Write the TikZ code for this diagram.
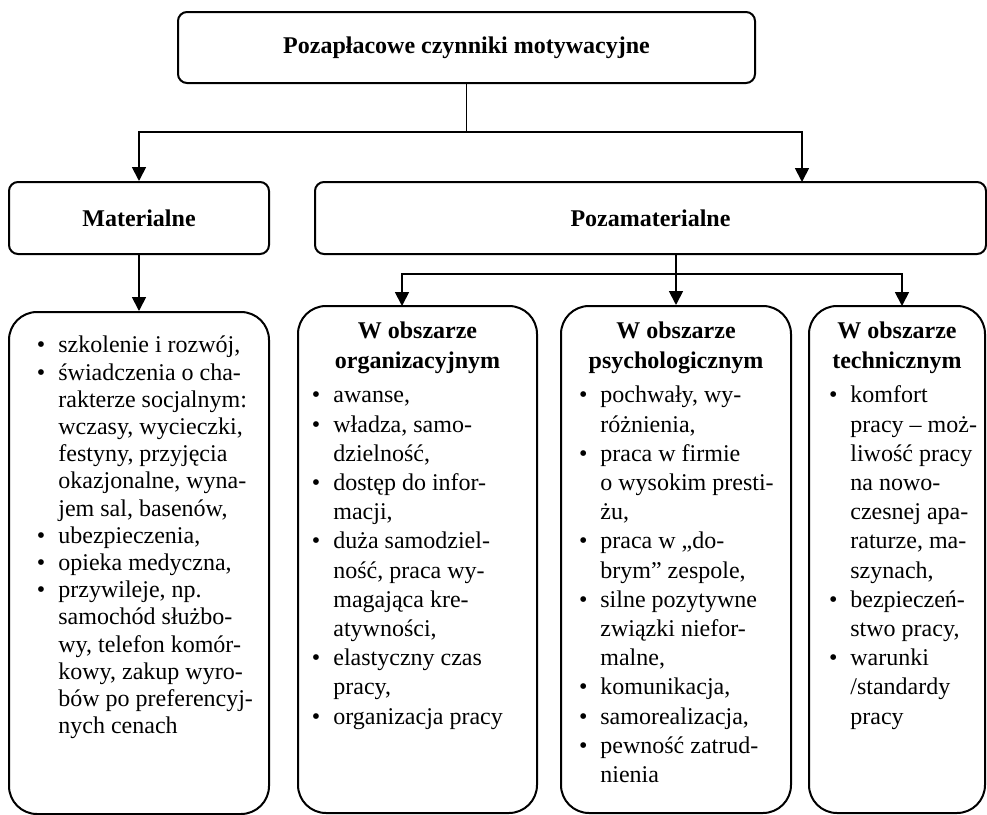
\documentclass[tikz,border=0pt]{standalone}
\usepackage{fontspec}
\setmainfont{Liberation Serif}
\usetikzlibrary{arrows.meta,positioning}
\newcommand{\pkt}{\llap{\textbullet\hspace{6.5pt}}}
\tikzset{
	ramka/.style={draw, line width=1pt, rounded corners=4.5pt, inner sep=0pt, minimum height=36pt, font=\bfseries\fontsize{12}{14}\selectfont},
	skrzynka/.style={draw, line width=1pt, rounded corners=14pt, inner sep=0pt, minimum height=253.5pt},
	tytul/.style={anchor=north, align=center, inner sep=0pt, font=\bfseries\fontsize{12}{15}\selectfont},
	punkty/.style={anchor=north west, align=left, inner sep=0pt, font=\fontsize{12}{#1}\selectfont},
	punkty/.default=14.6,
	linia/.style={line width=0.9pt},
	strzalka/.style={linia, -{Triangle[width=7pt,length=7pt]}}
}

\begin{document}
\begin{tikzpicture}[x=0.5pt, y=-0.5pt]
			%%%%% START %%%%%
			\useasboundingbox (0,0) rectangle (987,815);
			
			\node[ramka, minimum width=288.5pt, minimum height=35.5pt] (czynniki) at (466.5,47.5) {Pozapłacowe czynniki motywacyjne};
			
			\node[ramka, minimum width=130pt] (materialne) at (139,218) {Materialne};
			\node[ramka, minimum width=335.5pt] (pozamat) at (650.5,218) {Pozamaterialne};
			
			\node[skrzynka, minimum width=130pt, minimum height=251pt] (mat-lista) at (139,563) {};
			\node[skrzynka, minimum width=119.5pt] (org) at (417.5,559.5) {};
			\node[skrzynka, minimum width=115pt] (psych) at (676,559.5) {};
			\node[skrzynka, minimum width=88pt] (tech) at (897,559.5) {};
			
			% rozgałęzienia
			\coordinate (wezel1) at (466.5,132);
			\coordinate (wej-poza) at (802,182);
			\draw[linia] (czynniki.south) -- (wezel1);
			\draw[strzalka] (wezel1) -| (materialne.north);
			\draw[strzalka] (wezel1) -| (wej-poza);
			
			\draw[strzalka] (materialne.south) -- (mat-lista.north);
			
			\coordinate (wezel2) at (676,274);
			\coordinate (wej-org) at (402,306);
			\coordinate (wej-tech) at (902,306);
			\draw[linia] (pozamat.south -| psych.north) -- (wezel2);
			\draw[strzalka] (wezel2) -| (wej-org);
			\draw[strzalka] (wezel2) -- (psych.north);
			\draw[strzalka] (wezel2) -| (wej-tech);
			
			% teksty
			\node[punkty=13.6] (mat-tekst) at (58,333.5) {\strut\pkt szkolenie i rozwój,\\
				\pkt świadczenia o cha-\\
				rakterze socjalnym:\\
				wczasy, wycieczki,\\
				festyny, przyjęcia\\
				okazjonalne, wyna-\\
				jem sal, basenów,\\
				\pkt ubezpieczenia,\\
				\pkt opieka medyczna,\\
				\pkt przywileje, np.\\
				samochód służbo-\\
				wy, telefon komór-\\
				kowy, zakup wyro-\\
				bów po preferencyj-\\
				nych cenach};
			
			\node[tytul, below=6.25pt of org.north] (org-tytul) {\strut W obszarze\\organizacyjnym};
			\node[punkty] (org-tekst) at (333,382) {\strut\pkt awanse,\\
				\pkt władza, samo-\\
				dzielność,\\
				\pkt dostęp do infor-\\
				macji,\\
				\pkt duża samodziel-\\
				ność, praca wy-\\
				magająca kre-\\
				atywności,\\
				\pkt elastyczny czas\\
				pracy,\\
				\pkt organizacja pracy};
			
			\node[tytul, below=6.25pt of psych.north] (psych-tytul) {\strut W obszarze\\psychologicznym};
			\node[punkty] (psych-tekst) at (600,382) {\strut\pkt pochwały, wy-\\
				różnienia,\\
				\pkt praca w firmie\\
				o wysokim presti-\\
				żu,\\
				\pkt praca w „do-\\
				brym” zespole,\\
				\pkt silne pozytywne\\
				związki niefor-\\
				malne,\\
				\pkt komunikacja,\\
				\pkt samorealizacja,\\
				\pkt pewność zatrud-\\
				nienia};
			
			\node[tytul, below=6.25pt of tech.north] (tech-tytul) {\strut W obszarze\\technicznym};
			\node[punkty] (tech-tekst) at (850,382) {\strut\pkt komfort\\
				pracy – moż-\\
				liwość pracy\\
				na nowo-\\
				czesnej apa-\\
				raturze, ma-\\
				szynach,\\
				\pkt bezpieczeń-\\
				stwo pracy,\\
				\pkt warunki\\
				/standardy\\
				pracy};
			%%%%% END %%%%%
\end{tikzpicture}
\end{document}
